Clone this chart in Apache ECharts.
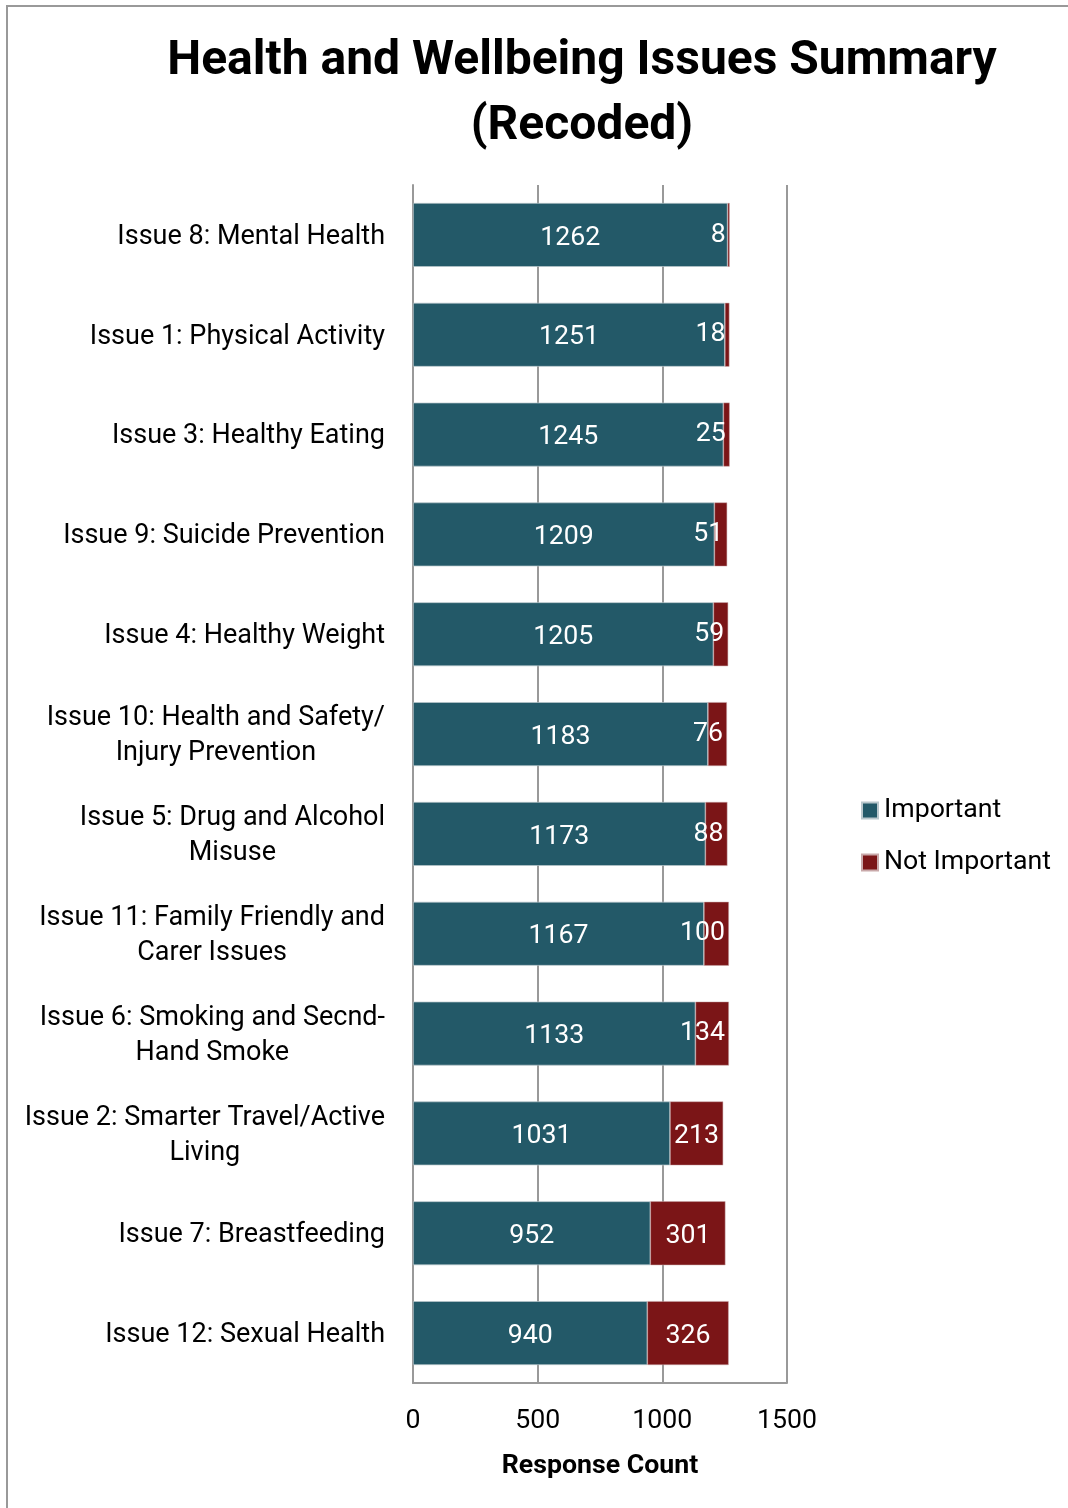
<!DOCTYPE html>
<html>
<head>
<meta charset="utf-8">
<script src="https://cdn.jsdelivr.net/npm/echarts@6/dist/echarts.min.js"></script>
<style>
html,body{margin:0;padding:0;background:#fff;}
#c{width:1068px;height:1508px;}
</style>
</head>
<body>
<div id="c"></div>
<script>
const categories = [
  "Issue 8: Mental Health",
  "Issue 1: Physical Activity",
  "Issue 3: Healthy Eating",
  "Issue 9: Suicide Prevention",
  "Issue 4: Healthy Weight",
  "Issue 10: Health and Safety/\nInjury Prevention",
  "Issue 5: Drug and Alcohol\nMisuse",
  "Issue 11: Family Friendly and\nCarer Issues",
  "Issue 6: Smoking and Secnd-\nHand Smoke",
  "Issue 2: Smarter Travel/Active\nLiving",
  "Issue 7: Breastfeeding",
  "Issue 12: Sexual Health"
];
const important = [1262, 1251, 1245, 1209, 1205, 1183, 1173, 1167, 1133, 1031, 952, 940];
const notImportant = [8, 18, 25, 51, 59, 76, 88, 100, 134, 213, 301, 326];
const xTicks = [0, 500, 1000, 1500];
const seriesNames = ["Important", "Not Important"];

const FONT = 'Roboto';
const FS = 26.7;
const chart = echarts.init(document.getElementById('c'), null, {renderer: 'canvas'});

const xMin = xTicks[0], xMax = xTicks[xTicks.length - 1];
const plotLeft = 413, plotRight = 787;
const pxPerUnit = (plotRight - plotLeft) / (xMax - xMin);

const notImpData = notImportant.map(v => {
  const segPx = v * pxPerUnit;
  const textPx = String(v).length * 15;
  if (segPx < textPx + 6) {
    return {value: v, label: {position: 'insideRight', distance: 4, offset: [0, 0]}};
  }
  return {value: v};
});

chart.setOption({
  animation: false,
  textStyle: {fontFamily: FONT},
  title: {
    text: 'Health and Wellbeing Issues Summary\n(Recoded)',
    left: 577, top: 24, textAlign: 'center',
    textStyle: {fontFamily: FONT, fontSize: 48, fontWeight: 'bold', color: '#000', lineHeight: 65}
  },
  graphic: [{
    type: 'rect', silent: true,
    shape: {x: 7, y: 6, width: 1200, height: 1600},
    style: {fill: 'none', stroke: '#999', lineWidth: 2}
  }],
  legend: {
    orient: 'vertical', left: 861, top: 797, padding: 0,
    itemWidth: 16, itemHeight: 16, itemGap: 25,
    icon: 'rect',
    textStyle: {fontFamily: FONT, fontSize: FS, color: '#000', padding: [0, 0, 0, 1]},
    data: seriesNames
  },
  grid: {left: plotLeft, right: 1068 - plotRight, top: 185, bottom: 1508 - 1383, containLabel: false},
  xAxis: {
    type: 'value', min: xMin, max: xMax, interval: 500,
    name: 'Response Count', nameLocation: 'middle', nameGap: 70,
    nameTextStyle: {fontFamily: FONT, fontSize: FS, fontWeight: 'bold', color: '#000'},
    axisLine: {show: true, lineStyle: {color: '#999', width: 2}},
    axisTick: {show: false},
    axisLabel: {fontFamily: FONT, fontSize: FS, color: '#000', margin: 25, formatter: v => String(v)},
    splitLine: {show: true, lineStyle: {color: '#999', width: 2}}
  },
  yAxis: {
    type: 'category', inverse: true, data: categories,
    axisLine: {show: true, lineStyle: {color: '#999', width: 2}},
    axisTick: {show: false},
    axisLabel: {
      margin: 28, color: '#000',
      formatter: v => '{c|' + v.split('\n').join('}\n{c|') + '}',
      rich: {c: {fontFamily: FONT, fontSize: 27, lineHeight: 35, align: 'center', color: '#000', padding: [4, 0, 0, 0]}}
    }
  },
  series: [
    {
      name: seriesNames[0], type: 'bar', stack: 'total', data: important,
      barCategoryGap: '36%',
      itemStyle: {color: '#235968', borderColor: '#b9c7cc', borderWidth: 0.7},
      label: {show: true, position: 'inside', color: '#fff', fontFamily: FONT, fontSize: FS, offset: [0, 3]}
    },
    {
      name: seriesNames[1], type: 'bar', stack: 'total', data: notImpData,
      itemStyle: {color: '#7b1517', borderColor: '#c9a9aa', borderWidth: 0.5},
      label: {show: true, position: 'inside', color: '#fff', fontFamily: FONT, fontSize: FS, offset: [0, 3]}
    }
  ]
});
</script>
</body>
</html>
